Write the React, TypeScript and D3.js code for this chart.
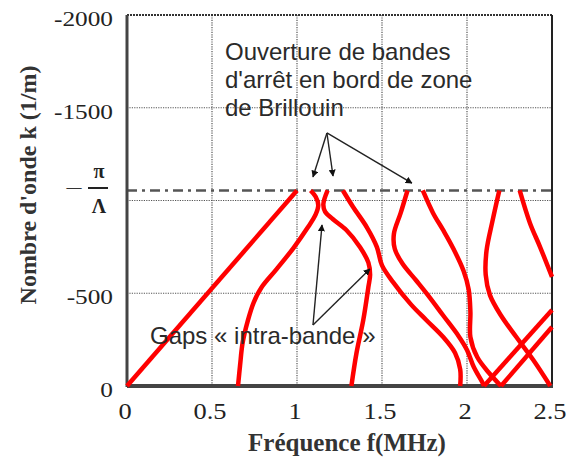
import React from "react";
import * as d3 from "d3";

const xTicks = [0, 0.5, 1, 1.5, 2, 2.5];
const xTickLabels = ["0", "0.5", "1", "1.5", "2", "2.5"];
const yTicks = [0, -500, -1500, -2000];
const yTickLabels = ["0", "-500", "-1500", "-2000"];
const gridX = [0.5, 1, 1.5, 2];
const gridY = [-500, -1000, -1500];
const brillouinK = -1054;

type P = [number, number];
const branch1: P[] = [[0, 0], [1.0, -1054]];
const branch2: P[] = [[0.653, 0], [0.665, -110], [0.68, -232], [0.71, -350], [0.745, -450], [0.79, -530], [0.88, -630], [0.98, -745], [1.06, -850], [1.11, -925], [1.125, -975], [1.11, -1020], [1.08, -1054]];
const branch3: P[] = [[1.18, -1054], [1.155, -980], [1.165, -940], [1.21, -900], [1.29, -841], [1.37, -749], [1.42, -665], [1.43, -600], [1.42, -534], [1.39, -356], [1.35, -178], [1.32, 0]];
const branch4: P[] = [[1.27, -1054], [1.33, -965], [1.41, -857], [1.47, -749], [1.5, -650], [1.565, -560], [1.67, -440], [1.76, -356], [1.86, -264], [1.93, -178], [1.96, -90], [1.96, 0]];
const branch5: P[] = [[1.65, -1054], [1.61, -933], [1.57, -820], [1.575, -740], [1.62, -660], [1.7, -570], [1.77, -490], [1.86, -380], [1.95, -270], [2.0, -194], [2.04, -102], [2.09, -20], [2.1, 0]];
const branch6: P[] = [[1.74, -1054], [1.8, -933], [1.86, -840], [1.92, -740], [1.98, -620], [2.01, -520], [2.02, -400], [2.02, -264], [2.06, -156], [2.13, -70], [2.2, 0]];
const branch7: P[] = [[2.19, -1054], [2.15, -890], [2.115, -730], [2.11, -600], [2.135, -490], [2.2, -380], [2.29, -264], [2.39, -140], [2.49, 0]];
const branch8: P[] = [[2.31, -1054], [2.37, -879], [2.43, -749], [2.5, -588]];
const branch9: P[] = [[2.1, 0], [2.5, -410]];
const branch10: P[] = [[2.2, 0], [2.5, -318]];
const branches = [branch1, branch2, branch3, branch4, branch5, branch6, branch7, branch8, branch9, branch10];

const topNoteLines = ["Ouverture de bandes", "d'arrêt en bord de zone", "de Brillouin"];
const topArrowFrom: P = [1.176, -1364];
const topArrowTips: P[] = [[1.094, -1127], [1.212, -1132], [1.676, -1094]];
const gapNote = "Gaps « intra-bande »";
const gapArrowFrom: P = [1.094, -329];
const gapArrowTips: P[] = [[1.147, -868], [1.429, -631]];

export default function App() {
  const x = d3.scaleLinear().domain([0, 2.5]).range([127, 552]);
  const y = d3.scaleLinear().domain([0, -2000]).range([386, 15]);
  const line = d3
    .line<P>()
    .x((d) => x(d[0]))
    .y((d) => y(d[1]))
    .curve(d3.curveCatmullRom.alpha(0.5));
  const serif = "'Liberation Serif', 'Times New Roman', serif";
  const sans = "'Liberation Sans', Arial, sans-serif";
  const x0 = x(0), x1 = x(2.5), yb = y(0), yt = y(-2000);

  const arrow = (from: P, to: P, key: string) => (
    <line key={key} x1={x(from[0])} y1={y(from[1])} x2={x(to[0])} y2={y(to[1])}
      stroke="#222" strokeWidth={1.4} markerEnd="url(#ah)" />
  );

  return (
    <svg width={569} height={459} style={{ position: "absolute", left: 0, top: 0, background: "#fff" }}>
      <defs>
        <marker id="ah" viewBox="0 0 10 10" refX={9} refY={5} markerWidth={7} markerHeight={7}
          markerUnits="userSpaceOnUse" orient="auto">
          <path d="M0,0 L10,5 L0,10 z" fill="#111" />
        </marker>
      </defs>
      {/* grid */}
      {gridX.map((v) => (
        <line key={"gx" + v} x1={x(v)} x2={x(v)} y1={yt} y2={yb} stroke="#555" strokeWidth={1.2} strokeDasharray="1.2,1.2" />
      ))}
      {gridY.map((v) => (
        <line key={"gy" + v} x1={x0} x2={x1} y1={y(v)} y2={y(v)} stroke="#555" strokeWidth={1.2} strokeDasharray="1.2,1.2" />
      ))}
      {/* Brillouin zone edge */}
      <line x1={x0} x2={x1} y1={y(brillouinK)} y2={y(brillouinK)} stroke="#555" strokeWidth={2.5} strokeDasharray="10,5,3,5" />
      {/* frame */}
      <line x1={x0} x2={x1} y1={yt} y2={yt} stroke="#333" strokeWidth={2} strokeDasharray="2,1" />
      <line x1={x1} x2={x1} y1={yt} y2={yb} stroke="#222" strokeWidth={2} />
      <line x1={x0} x2={x0} y1={yt} y2={yb + 1} stroke="#444" strokeWidth={3} />
      <line x1={x0} x2={x1 + 1} y1={yb} y2={yb} stroke="#444" strokeWidth={4} />
      {/* branches */}
      {branches.map((b, i) => (
        <path key={"b" + i} d={line(b) || ""} fill="none" stroke="#ff0000" strokeWidth={4.5} strokeLinejoin="round" />
      ))}
      {/* annotations */}
      <text fontFamily={sans} fontSize={24} fill="#2a2a2a">
        {topNoteLines.map((t, i) => (
          <tspan key={t} x={225} y={60 + i * 28}>{t}</tspan>
        ))}
      </text>
      {topArrowTips.map((t, i) => arrow(topArrowFrom, t, "ta" + i))}
      <text x={150} y={344} fontFamily={sans} fontSize={24} fill="#2a2a2a">{gapNote}</text>
      {gapArrowTips.map((t, i) => arrow(gapArrowFrom, t, "ga" + i))}
      {/* x ticks */}
      {xTicks.map((v, i) => (
        <text key={"xt" + v} transform={`translate(${x(v) - 2},419) scale(1.15,1)`} textAnchor="middle"
          fontFamily={serif} fontSize={23} fill="#222">{xTickLabels[i]}</text>
      ))}
      {/* y ticks */}
      {yTicks.map((v, i) => (
        <text key={"yt" + v} transform={`translate(113,${y(v) + 11}) scale(1.15,1)`} textAnchor="end"
          fontFamily={serif} fontSize={22} fill="#222">{yTickLabels[i]}</text>
      ))}
      {/* -pi/Lambda label */}
      <text x={74} y={192} textAnchor="middle" fontFamily={serif} fontSize={15} fontWeight="bold" fill="#333">—</text>
      <text x={99} y={178} textAnchor="middle" fontFamily={serif} fontSize={20} fontWeight="bold" fill="#222">π</text>
      <line x1={88} x2={108} y1={y(brillouinK) - 2.5} y2={y(brillouinK) - 2.5} stroke="#222" strokeWidth={2} />
      <text x={99} y={213} textAnchor="middle" fontFamily={serif} fontSize={20} fontWeight="bold" fill="#222">Λ</text>
      {/* axis titles */}
      <text x={347} y={451} textAnchor="middle" fontFamily={serif} fontSize={25} fontWeight="bold" fill="#333">Fréquence f(MHz)</text>
      <text transform="translate(36,185) rotate(-90)" textAnchor="middle" fontFamily={serif} fontSize={24} fontWeight="bold" fill="#333">Nombre d'onde k (1/m)</text>
    </svg>
  );
}
